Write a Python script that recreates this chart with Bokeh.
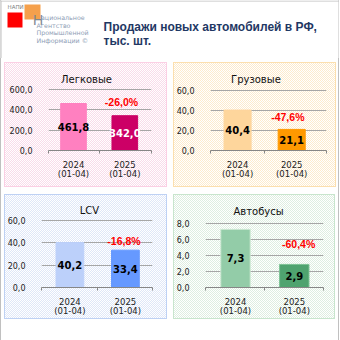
from bokeh.plotting import figure
from bokeh.models import (Range1d, FixedTicker, CustomJSTickFormatter, Label, ColumnDataSource)
from bokeh.layouts import column, row
from bokeh.core.properties import value
from bokeh.embed import file_html
from bokeh.resources import INLINE

# ---------------- data ----------------
titles = ["Легковые", "Грузовые", "LCV", "Автобусы"]
periods = ["2024\n(01-04)", "2025\n(01-04)"]
sales_2024 = [461.8, 40.4, 40.2, 7.3]
sales_2025 = [342.0, 21.1, 33.4, 2.9]
change_pct = [-26.0, -47.6, -16.8, -60.4]
y_ticks = [[0, 200, 400, 600], [0, 20, 40, 60], [0, 20, 40, 60], [0, 2, 4, 6, 8]]
chart_title = ["Продажи новых автомобилей в РФ,", "тыс. шт."]
logo_lines = ["Агентство", "Промышленной", "Информации ©"]

# ---------------- styles / layout (page pixels) ----------------
bar_fill = [["#ff80c0", "#cc0066"], ["#fed69c", "#ff9900"],
            ["#bcd0fa", "#6699ff"], ["#93cca8", "#4fa36f"]]
bar_line = [["#ff80c0", "#cc0066"], ["#fed69c", "#ff9900"],
            ["#bcd0fa", "#6699ff"], ["#cde8d3", "#7cc294"]]
label_color = [["black", "white"], ["black", "black"], ["black", "black"], ["black", "black"]]
panel_dot = ["#f9dbea", "#fdebcd", "#dfe7f8", "#deeee1"]
panel_line = ["#fbcfe4", "#fcdfae", "#bed1f4", "#c8e5cd"]
GRAY = "#c0c0c0"

HEADER_H = 58
PAGE_W = 339
BOX = [(4, 62, 163, 125), (173, 62, 163, 125), (4, 194, 163, 125), (173, 194, 162, 125)]
MARGINS = [(4, 0, 0, 4), (4, 0, 0, 6), (7, 0, 21, 4), (7, 0, 21, 6)]
FRAME_X = [(48, 151), (206, 326), (34, 152), (203, 323)]
ZERO_Y = [152, 150, 290, 287]
TOP_TICK_Y = [89.5, 90, 220.7, 223.3]
BAR_CX = [(73, 124.3), (234, 290), (64.2, 123.2), (233.5, 293.3)]
TITLE_XY = [(86, 79), (253, 79), (85, 210.7), (257, 210.7)]
PCT_XY = [(121, 102.7), (286, 116.7), (121.7, 241.7), (297.7, 243.3)]
FRAME_TOP = 4


def fmt(v):
    return f"{v:.1f}".replace(".", ",")


def make_panel(i):
    bx0, by0, bw, bh = BOX[i]
    fl, fr = FRAME_X[i]
    left = fl - bx0
    right = bx0 + bw - fr
    bottom = by0 + bh - ZERO_Y[i]
    top = FRAME_TOP
    frame_h = bh - top - bottom
    pxu_y = (ZERO_Y[i] - TOP_TICK_Y[i]) / max(y_ticks[i])
    y_end = frame_h / pxu_y
    c1, c2 = BAR_CX[i]
    pxu_x = c2 - c1
    x_start = 1 - (c1 - fl) / pxu_x
    x_end = 2 + (fr - c2) / pxu_x

    def xd(px):
        return x_start + (px - fl) / pxu_x

    def yd(py):
        return (ZERO_Y[i] - py) / pxu_y

    pattern = (f"repeating-conic-gradient({panel_dot[i]} 0% 25%, #ffffff 0% 50%) "
               f"0 0 / 2px 2px")
    p = figure(width=bw, height=bh, x_range=Range1d(x_start, x_end), y_range=Range1d(0, y_end),
               toolbar_location=None, output_backend="svg",
               min_border_left=left, min_border_right=right,
               min_border_top=top, min_border_bottom=bottom,
               margin=MARGINS[i],
               styles={"outline": f"1px solid {panel_line[i]}", "outline-offset": "-1px",
                       "background": pattern})
    p.background_fill_color = None
    p.border_fill_color = None
    p.outline_line_color = None
    p.xgrid.visible = False

    yt = FixedTicker(ticks=y_ticks[i], minor_ticks=[])
    p.yaxis.ticker = yt
    p.ygrid.ticker = yt
    p.ygrid.grid_line_color = "#a6a6a6"
    p.yaxis.formatter = CustomJSTickFormatter(code="return tick.toFixed(1).replace('.', ',');")
    p.yaxis.axis_line_color = None
    p.yaxis.major_tick_line_color = None
    p.yaxis.minor_tick_line_color = None
    p.yaxis.major_label_standoff = 10
    p.yaxis.major_label_text_font = "DejaVu Sans"
    p.yaxis.major_label_text_font_size = "8px"
    p.yaxis.major_label_text_color = "#222222"

    xs = [k + 1 for k in range(len(periods))]
    p.xaxis.ticker = FixedTicker(ticks=xs, minor_ticks=[x_start + 1e-6, 1.5, x_end - 1e-6])
    p.xaxis.formatter = CustomJSTickFormatter(args=dict(labels=periods),
                                              code="return labels[Math.round(tick) - 1];")
    p.xaxis.axis_line_color = "#868686"
    p.xaxis.major_tick_line_color = None
    p.xaxis.minor_tick_line_color = "#868686"
    p.xaxis.minor_tick_out = 3
    p.xaxis.minor_tick_in = 0
    p.xaxis.major_tick_out = 0
    p.xaxis.major_label_standoff = 6
    p.xaxis.major_label_text_font = "DejaVu Sans"
    p.xaxis.major_label_text_font_size = "8.5px"
    p.xaxis.major_label_text_line_height = 0.95
    p.xaxis.major_label_text_color = "#222222"

    vals = [sales_2024[i], sales_2025[i]]
    src = ColumnDataSource(dict(x=xs, top=vals, half=[v / 2 for v in vals],
                                txt=[fmt(v) for v in vals], fill=bar_fill[i],
                                line=bar_line[i], tcol=label_color[i]))
    p.vbar(x="x", top="top", width=0.5, fill_color="fill", line_color="line", source=src)
    p.text(x="x", y="half", text="txt", text_color="tcol", source=src,
           text_font=value("DejaVu Sans"), text_font_style="bold", text_font_size="10px",
           text_align="center", text_baseline="middle")

    tx, ty = TITLE_XY[i]
    p.add_layout(Label(x=xd(tx), y=yd(ty), text=titles[i], text_font="DejaVu Sans",
                       text_font_size="10px", text_color="#111111",
                       text_align="center", text_baseline="middle"))
    qx, qy = PCT_XY[i]
    p.add_layout(Label(x=xd(qx), y=yd(qy), text=fmt(change_pct[i]) + "%",
                       text_font="Liberation Sans", text_font_style="bold",
                       text_font_size="10.5px", text_color="#ff0000",
                       text_align="center", text_baseline="middle"))
    return p


# ---------------- header ----------------
h = figure(width=PAGE_W, height=HEADER_H, x_range=Range1d(0, PAGE_W), y_range=Range1d(HEADER_H, 0),
           toolbar_location=None, output_backend="svg", min_border=0,
           x_axis_location=None, y_axis_location=None)
h.grid.visible = False
h.outline_line_color = None
h.background_fill_color = "white"
h.border_fill_color = "white"
h.quad(left=[0, PAGE_W - 1, 0], right=[1, PAGE_W, PAGE_W],
       top=[0, 0, 0], bottom=[HEADER_H, HEADER_H, 1], fill_color=GRAY, line_color=None)
h.quad(left=[7], right=[22], top=[12], bottom=[27], fill_color="#ff0000", line_color=None)
h.quad(left=[24], right=[40], top=[4], bottom=[19], fill_color="#f5a04c", line_color=None)
h.text(x=[7], y=[6.5], text=["НАПИ"], text_font=value("DejaVu Sans"), text_font_size="5.5px",
       text_color="#7f7f7f", text_align="left", text_baseline="middle")
h.text(x=[32.5], y=[19.5], text=["Н"], text_font=value("Liberation Sans"), text_font_size="14px",
       text_color="#808890", text_align="left", text_baseline="alphabetic")
h.text(x=[40.5], y=[16.5], text=["ациональное"], text_font=value("DejaVu Sans"),
       text_font_size="6.3px", text_color="#8d9db5", text_align="left", text_baseline="middle")
h.text(x=[36, 36, 36], y=[24.7, 32.3, 40], text=logo_lines, text_font=value("DejaVu Sans"),
       text_font_size="6.3px", text_color="#8d9db5", text_align="left", text_baseline="middle")
h.text(x=[103, 103], y=[26.7, 40.7], text=chart_title, text_font=value("Liberation Sans"),
       text_font_style="bold", text_font_size="12px", text_color="#1f3864",
       text_align="left", text_baseline="middle")

panels = [make_panel(i) for i in range(4)]
layout = column(h, row(panels[0], panels[1], spacing=0), row(panels[2], panels[3], spacing=0),
                spacing=0,
                styles={"box-shadow": f"inset 1px 0 0 0 {GRAY}, inset -1px 0 0 0 {GRAY}"})

open("out.html", "w").write(file_html(layout, INLINE))
